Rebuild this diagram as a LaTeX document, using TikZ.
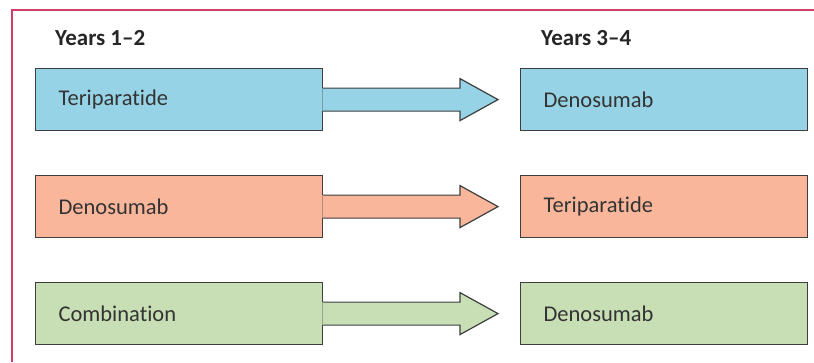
\documentclass[tikz,border=0pt]{standalone}
\usepackage{fontspec}
\setmainfont[Ligatures=NoCommon]{Carlito}
\usetikzlibrary{calc}

\definecolor{framered}{RGB}{206,62,102}
\definecolor{boxline}{RGB}{62,62,62}
\definecolor{tblue}{RGB}{151,211,230}
\definecolor{tsalmon}{RGB}{249,182,154}
\definecolor{tgreen}{RGB}{200,223,181}

\tikzset{
  drug/.style={draw=boxline, line width=1.2pt, anchor=north west, minimum height=62pt,
    text width=241pt, inner xsep=23pt, align=left, text=black!80,
    font=\fontsize{22.5}{26}\selectfont},
  period/.style={anchor=base west, inner sep=0pt, text=black!85,
    font=\bfseries\fontsize{23}{27}\selectfont},
}

\begin{document}
\begin{tikzpicture}[x=1pt,y=-1pt]
\useasboundingbox (0,0) rectangle (814,362);
 %frame
\draw[framered, line width=1.5pt] (12,362) -- (12,10) -- (814,10);

\node[period] (yrsA) at (55,45) {Years 1--2};
\node[period] (yrsB) at (541,45) {Years 3--4};

\node[drug, fill=tblue] (lt1) at (35,68) {Teriparatide};
\node[drug, fill=tblue] (rt1) at (520,68) {Denosumab};
\node[drug, fill=tsalmon] (lt2) at (35,175) {Denosumab};
\node[drug, fill=tsalmon] (rt2) at (520,175) {Teriparatide};
\node[drug, fill=tgreen] (lt3) at (35,282) {Combination};
\node[drug, fill=tgreen] (rt3) at (520,282) {Denosumab};

 %arrows from first to second period
\foreach \n/\c in {1/tblue, 2/tsalmon, 3/tgreen} {
  \fill[\c] ([xshift=-0.8pt,yshift=11.5pt]lt\n.east) -- ([xshift=-60pt,yshift=11.5pt]rt\n.west)
    -- ([xshift=-60pt,yshift=21pt]rt\n.west) -- ([xshift=-22pt]rt\n.west)
    -- ([xshift=-60pt,yshift=-21pt]rt\n.west) -- ([xshift=-60pt,yshift=-11.5pt]rt\n.west)
    -- ([xshift=-0.8pt,yshift=-11.5pt]lt\n.east) -- cycle;
  \draw[boxline, line width=1.2pt, line join=miter] ([yshift=11.5pt]lt\n.east) -- ([xshift=-60pt,yshift=11.5pt]rt\n.west)
    -- ([xshift=-60pt,yshift=21pt]rt\n.west) -- ([xshift=-22pt]rt\n.west)
    -- ([xshift=-60pt,yshift=-21pt]rt\n.west) -- ([xshift=-60pt,yshift=-11.5pt]rt\n.west)
    -- ([yshift=-11.5pt]lt\n.east);
}
\end{tikzpicture}
\end{document}
